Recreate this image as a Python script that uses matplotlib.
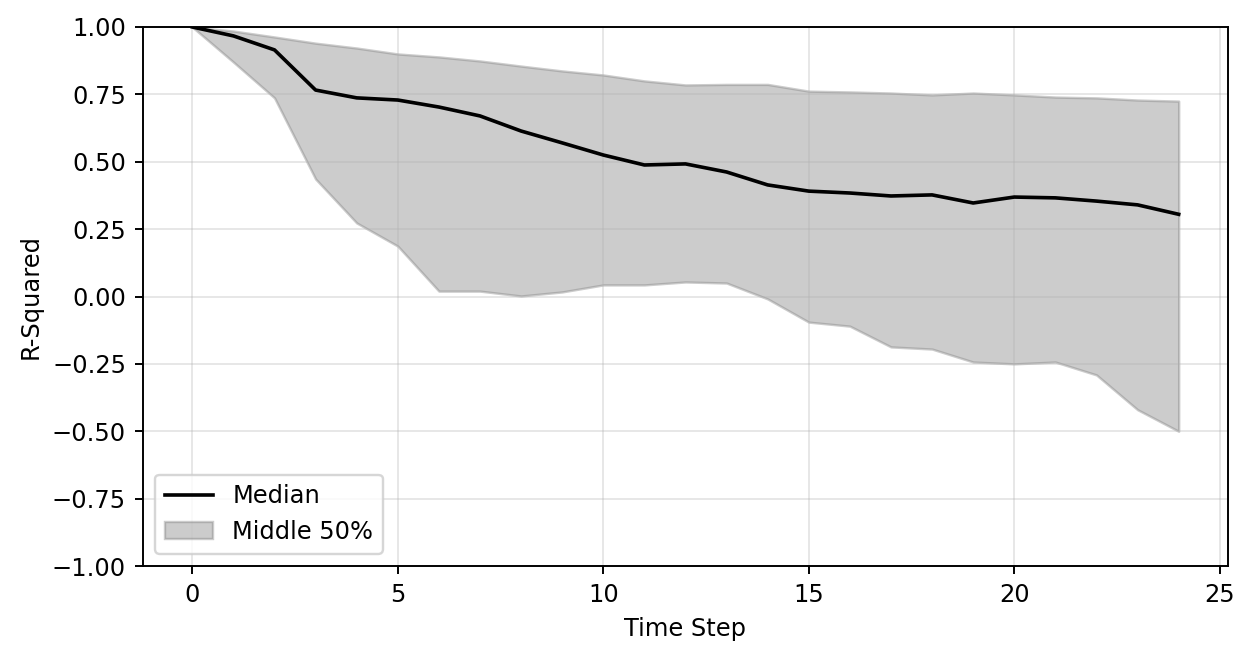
import matplotlib
matplotlib.use("Agg")

import matplotlib.pyplot as plt
import numpy as np

# values
time_steps = list(range(25))
median = [1.00, 0.967, 0.915, 0.766, 0.737, 0.729, 0.703, 0.670, 0.614, 0.570,
          0.525, 0.488, 0.492, 0.462, 0.414, 0.391, 0.384, 0.373, 0.377, 0.347,
          0.369, 0.366, 0.354, 0.340, 0.305]
upper = [1.00, 0.985, 0.963, 0.940, 0.922, 0.900, 0.889, 0.874, 0.855, 0.837,
         0.822, 0.800, 0.785, 0.787, 0.787, 0.762, 0.759, 0.755, 0.748, 0.755,
         0.748, 0.740, 0.737, 0.729, 0.725]
lower = [1.00, 0.870, 0.737, 0.436, 0.273, 0.187, 0.020, 0.020, 0.002, 0.017,
         0.043, 0.043, 0.054, 0.050, -0.009, -0.095, -0.110, -0.187, -0.195, -0.243,
         -0.250, -0.243, -0.291, -0.420, -0.500]

DPI = 174
fig = plt.figure(figsize=(1252 / DPI, 658 / DPI), dpi=DPI)
ax = fig.add_axes([143 / 1252, 1 - 566 / 658, (1228 - 143) / 1252, (566 - 27) / 658])

ax.plot(time_steps, median, color="black", linewidth=1.5, label="Median")
ax.fill_between(time_steps, lower, upper, color="gray", alpha=0.4, label="Middle 50%")

ax.set_ylim(-1, 1)
ax.set_yticks(np.arange(-1, 1.01, 0.25))
ax.set_xlabel("Time Step")
ax.set_ylabel("R-Squared")
ax.grid(True, alpha=0.3)
ax.legend(loc="lower left")

fig.savefig("out.png", dpi=DPI)
